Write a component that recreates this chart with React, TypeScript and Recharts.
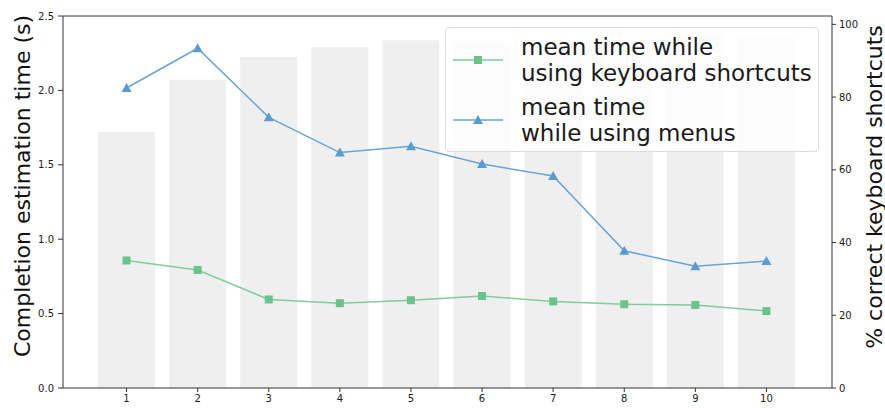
import React from "react";
import { ComposedChart, Bar, Line, XAxis, YAxis, Legend, ReferenceLine } from "recharts";

const sessions = ["1", "2", "3", "4", "5", "6", "7", "8", "9", "10"];
const keyboardTime = [0.857, 0.793, 0.595, 0.57, 0.59, 0.618, 0.582, 0.563, 0.558, 0.517];
const menuTime = [2.016, 2.283, 1.819, 1.582, 1.624, 1.505, 1.425, 0.922, 0.818, 0.853];
const correctShortcuts = [70.4, 84.8, 91.0, 93.7, 95.6, 94.8, 94.0, 93.0, 97.5, 96.4];
const leftTicks = [0, 0.5, 1, 1.5, 2, 2.5];
const rightTicks = [0, 20, 40, 60, 80, 100];

const data = sessions.map((s, i) => ({
  session: s,
  keyboard: keyboardTime[i],
  menu: menuTime[i],
  correct: correctShortcuts[i],
}));

const GREEN_LINE = "#7fcd9c";
const GREEN_MARK = "#6cc28c";
const BLUE_LINE = "#67a4d7";
const BLUE_MARK = "#5b9bd3";
const FONT = "'DejaVu Sans', sans-serif";

const SquareDot = (p: any) => (
  <rect key={`sq-${p.index}`} x={p.cx - 4} y={p.cy - 4} width={8} height={8} fill={GREEN_MARK} />
);

const TriangleDot = (p: any) => (
  <polygon
    key={`tr-${p.index}`}
    points={`${p.cx},${p.cy - 5} ${p.cx - 5},${p.cy + 4} ${p.cx + 5},${p.cy + 4}`}
    fill={BLUE_MARK}
  />
);

const legendItems = [
  { lines: ["mean time while", "using keyboard shortcuts"], line: GREEN_LINE, mark: "square" },
  { lines: ["mean time", "while using menus"], line: BLUE_LINE, mark: "triangle" },
];

const LegendBox = () => (
  <div
    style={{
      width: 374,
      height: 125,
      boxSizing: "border-box",
      background: "rgba(255,255,255,0.8)",
      border: "1px solid #dcdcdc",
      borderRadius: 4,
      fontFamily: FONT,
      fontSize: 23,
      color: "#1a1a1a",
      paddingTop: 6,
    }}
  >
    {legendItems.map((it, i) => (
      <div key={i} style={{ display: "flex", alignItems: "center", height: 52, marginBottom: 8 }}>
        <svg width={50} height={12} style={{ marginLeft: 7, marginRight: 18, flex: "none" }}>
          <line x1={0} y1={6} x2={50} y2={6} stroke={it.line} strokeWidth={1.5} />
          {it.mark === "square" ? (
            <rect x={21} y={2} width={8} height={8} fill={GREEN_MARK} />
          ) : (
            <polygon points="25,1 20,10 30,10" fill={BLUE_MARK} />
          )}
        </svg>
        <div style={{ lineHeight: "26px", whiteSpace: "nowrap" }}>
          {it.lines.map((l, j) => (
            <div key={j}>{l}</div>
          ))}
        </div>
      </div>
    ))}
  </div>
);

const tickStyle = { fontSize: 10, fill: "#1a1a1a", fontFamily: FONT };

export default function App() {
  return (
    <div style={{ position: "absolute", left: 0, top: 0, width: 885, height: 408, background: "#fff" }}>
      <ComposedChart
        width={885}
        height={408}
        data={data}
        margin={{ top: 16, right: 0, bottom: 0, left: 0 }}
        style={{ fontFamily: FONT }}
      >
        <XAxis
          dataKey="session"
          height={20}
          padding={{ left: 28, right: 30 }}
          tickLine={{ stroke: "#333" }}
          axisLine={{ stroke: "#333" }}
          tickSize={4}
          tickMargin={3}
          tick={tickStyle}
          interval={0}
        />
        <YAxis
          yAxisId="left"
          width={63}
          domain={[0, 2.5]}
          ticks={leftTicks}
          tickFormatter={(v: number) => v.toFixed(1)}
          tickSize={5}
          tickMargin={4}
          tick={tickStyle}
          tickLine={{ stroke: "#333" }}
          axisLine={{ stroke: "#333" }}
          label={() => (
            <text
              x={22}
              y={186}
              transform="rotate(-90 22 186)"
              textAnchor="middle"
              dominantBaseline="central"
              fontSize={22}
              fontFamily={FONT}
              fill="#111"
            >
              Completion estimation time (s)
            </text>
          )}
        />
        <YAxis
          yAxisId="right"
          orientation="right"
          width={53}
          domain={[0, 102.3]}
          ticks={rightTicks}
          tickSize={4}
          tickMargin={3}
          tick={tickStyle}
          tickLine={{ stroke: "#333" }}
          axisLine={{ stroke: "#333" }}
          label={() => (
            <text
              x={874}
              y={187}
              transform="rotate(-90 874 187)"
              textAnchor="middle"
              dominantBaseline="central"
              fontSize={22}
              fontFamily={FONT}
              fill="#111"
            >
              % correct keyboard shortcuts
            </text>
          )}
        />
        <ReferenceLine yAxisId="left" y={2.5} stroke="#333" />
        <Bar yAxisId="right" dataKey="correct" fill="#efefef" barSize={57} isAnimationActive={false} />
        <Line
          yAxisId="left"
          type="linear"
          dataKey="keyboard"
          stroke={GREEN_LINE}
          strokeWidth={1.5}
          dot={SquareDot}
          activeDot={false}
          isAnimationActive={false}
        />
        <Line
          yAxisId="left"
          type="linear"
          dataKey="menu"
          stroke={BLUE_LINE}
          strokeWidth={1.5}
          dot={TriangleDot}
          activeDot={false}
          isAnimationActive={false}
        />
        <Legend
          layout="vertical"
          align="center"
          verticalAlign="middle"
          content={() => <LegendBox />}
          wrapperStyle={{ left: 445, top: 27, width: 374, height: 125 }}
        />
      </ComposedChart>
    </div>
  );
}
